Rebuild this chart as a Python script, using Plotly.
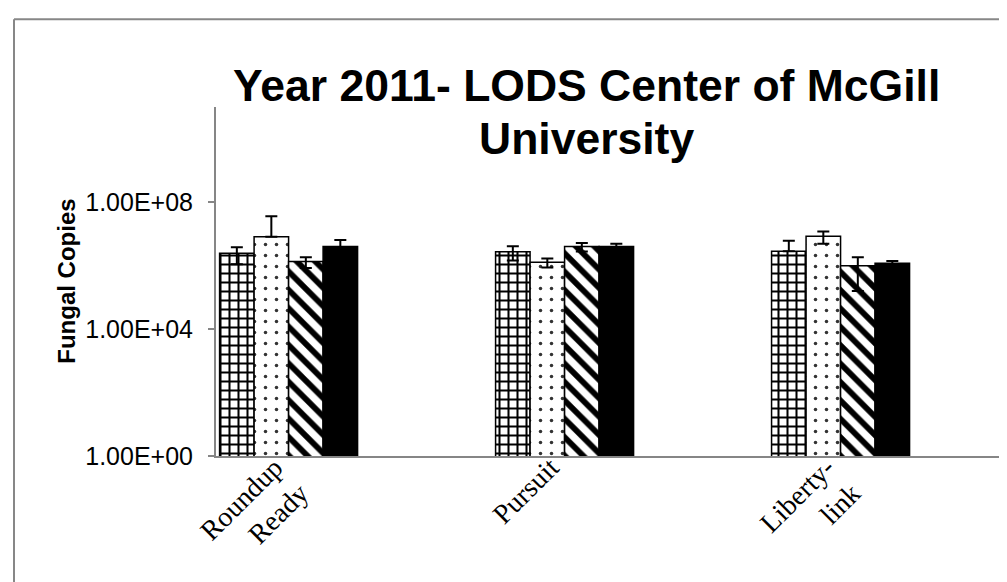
import plotly.graph_objects as go

categories = ["Roundup<br>Ready", "Pursuit", "Liberty-<br>link"]
series_names = ["Series 1", "Series 2", "Series 3", "Series 4"]

s1_values = [2.45e6, 2.76e6, 2.83e6]
s2_values = [8.2e6, 1.27e6, 8.4e6]
s3_values = [1.34e6, 3.98e6, 1.0e6]
s4_values = [3.98e6, 3.98e6, 1.18e6]

s1_err = [1.35e6, 1.3e6, 3.3e6]
s2_err = [2.77e7, 0.4e6, 3.5e6]
s3_err = [0.5e6, 1.2e6, 0.84e6]
s4_err = [2.44e6, 0.96e6, 0.22e6]

tick_vals = [1, 1e4, 1e8]
tick_text = ["1.00E+00", "1.00E+04", "1.00E+08"]

title_line1 = "Year 2011- LODS Center of McGill"
title_line2 = "University"
y_title = "Fungal Copies"

values = [s1_values, s2_values, s3_values, s4_values]
errors = [s1_err, s2_err, s3_err, s4_err]

patterns = [
    dict(shape="+", fgcolor="black", bgcolor="white", fgopacity=1, size=9, solidity=0.4),
    dict(shape=".", fgcolor="#333333", bgcolor="white", fgopacity=1, size=11, solidity=0.08),
    dict(shape="\\", fgcolor="black", bgcolor="white", fgopacity=1, size=13, solidity=0.45),
    dict(shape="", fgcolor="black", bgcolor="black"),
]
colors = ["white", "white", "white", "black"]

fig = go.Figure()
for name, vals, errs, pat, col in zip(series_names, values, errors, patterns, colors):
    minus = [e if e < v else 0 for v, e in zip(vals, errs)]
    fig.add_trace(go.Bar(
        x=categories, y=vals, name=name,
        marker=dict(color=col, pattern=pat, line=dict(color="black", width=1.5)),
        error_y=dict(type="data", array=errs, arrayminus=minus, symmetric=False,
                     color="black", thickness=2, width=6),
    ))

W, H = 1007, 582
L, T, B = 208, 99, 582 - 448.5
pw, ph = W - L, H - T - B

def px_x(p):
    return (p - L) / pw

def px_y(p):
    return (H - B - p) / ph

title_font = dict(family="Liberation Sans, Arial", size=44.5, color="black", weight="bold")
fig.update_layout(
    width=W, height=H,
    margin=dict(l=L, r=0, t=T, b=B, pad=0),
    paper_bgcolor="white", plot_bgcolor="white",
    barmode="group", bargap=0.5, bargroupgap=0,
    showlegend=False,
    font=dict(family="Liberation Sans, Arial", color="black"),
    xaxis=dict(
        type="category", range=[-0.263, 2.632],
        showline=True, linecolor="#868686", linewidth=2,
        ticks="", showgrid=False, zeroline=False,
        tickangle=-45,
        ticklabelstandoff=-18, ticklabelshift=-14,
        tickfont=dict(family="Liberation Serif, Times New Roman", size=28, color="black"),
    ),
    yaxis=dict(
        type="log", range=[0, 11],
        tickvals=tick_vals, ticktext=tick_text,
        showline=True, linecolor="#868686", linewidth=2,
        ticks="outside", ticklen=6, tickcolor="#868686", tickwidth=1.5,
        ticklabelstandoff=10,
        showgrid=False, zeroline=False,
        tickfont=dict(family="Liberation Sans, Arial", size=25, color="black"),
    ),
    annotations=[
        dict(text="<b>" + title_line1 + "</b>", xref="paper", yref="paper",
             x=px_x(578.5), y=px_y(93 - 0.3465 * 44.5), xanchor="center", yanchor="middle",
             showarrow=False, font=title_font),
        dict(text="<b>" + title_line2 + "</b>", xref="paper", yref="paper",
             x=px_x(578.5), y=px_y(146 - 0.3465 * 44.5), xanchor="center", yanchor="middle",
             showarrow=False, font=title_font),
        dict(text="<b>" + y_title + "</b>", textangle=-90,
             xref="paper", yref="paper", x=px_x(59), y=px_y(274),
             xanchor="center", yanchor="middle", showarrow=False,
             font=dict(family="Liberation Sans, Arial", size=24, color="black")),
    ],
    shapes=[
        dict(type="line", xref="paper", yref="paper", x0=px_x(6), x1=px_x(1010),
             y0=px_y(11), y1=px_y(11), line=dict(color="#878787", width=2)),
        dict(type="line", xref="paper", yref="paper", x0=px_x(6), x1=px_x(6),
             y0=px_y(11), y1=px_y(590), line=dict(color="#878787", width=2)),
    ],
)

fig.write_html("out.html")
